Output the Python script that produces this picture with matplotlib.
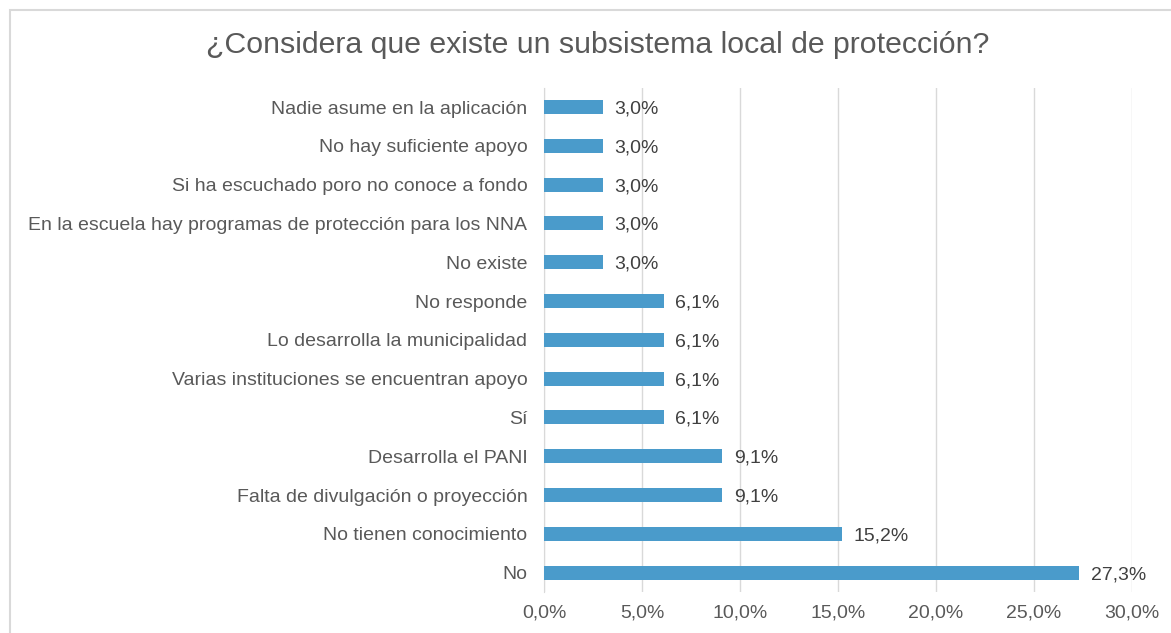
import matplotlib
matplotlib.use("Agg")
import matplotlib.pyplot as plt
from matplotlib.patches import Rectangle
from matplotlib.ticker import FuncFormatter

plt.rcParams['font.family'] = ['Liberation Sans', 'DejaVu Sans']

categories = [
    "Nadie asume en la aplicación",
    "No hay suficiente apoyo",
    "Si ha escuchado poro no conoce a fondo",
    "En la escuela hay programas de protección para los NNA",
    "No existe",
    "No responde",
    "Lo desarrolla la municipalidad",
    "Varias instituciones se encuentran apoyo",
    "Sí",
    "Desarrolla el PANI",
    "Falta de divulgación o proyección",
    "No tienen conocimiento",
    "No",
]
values = [3.0, 3.0, 3.0, 3.0, 3.0, 6.1, 6.1, 6.1, 6.1, 9.1, 9.1, 15.2, 27.3]
title = "¿Considera que existe un subsistema local de protección?"

W, H = 1171, 633
fig = plt.figure(figsize=(W / 100, H / 100), dpi=100)
fig.patch.set_facecolor("white")

# chart-area border
fig.add_artist(Rectangle((10 / W, -0.05), 1.2, 1.05 - 10 / H,
                         transform=fig.transFigure, fill=False,
                         edgecolor="#d9d9d9", linewidth=1.5))

ax = fig.add_axes([544 / W, 1 - 592 / H, (1132 - 544) / W, (592 - 87.6) / H])

n = len(categories)
ypos = list(range(n - 1, -1, -1))
bar_color = "#4a9bcb"
ax.barh(ypos, values, height=0.36, color=bar_color, zorder=3)

for y, v in zip(ypos, values):
    ax.text(v + 0.6, y, f"{v:.1f}%".replace(".", ","), va="center_baseline",
            ha="left", fontsize=14, color="#404040")

ax.set_xlim(0, 30)
ax.set_ylim(-0.5, n - 0.5)
ax.set_xticks([0, 5, 10, 15, 20, 25, 30])
ax.xaxis.set_major_formatter(FuncFormatter(lambda x, p: f"{x:.1f}%".replace(".", ",")))
ax.set_yticks(ypos)
ax.set_yticklabels(categories)
ax.tick_params(axis="both", length=0, labelsize=14, labelcolor="#595959")
ax.tick_params(axis="y", pad=12)
ax.tick_params(axis="x", pad=9)

ax.grid(axis="x", color="#d9d9d9", linewidth=1, zorder=0)
for s in ["top", "right", "bottom"]:
    ax.spines[s].set_visible(False)
ax.spines["left"].set_color("#d9d9d9")

fig.text(598 / W, 1 - 45 / H, title, ha="center", va="center",
         fontsize=21.8, color="#595959")

fig.savefig("out.png", dpi=100)
